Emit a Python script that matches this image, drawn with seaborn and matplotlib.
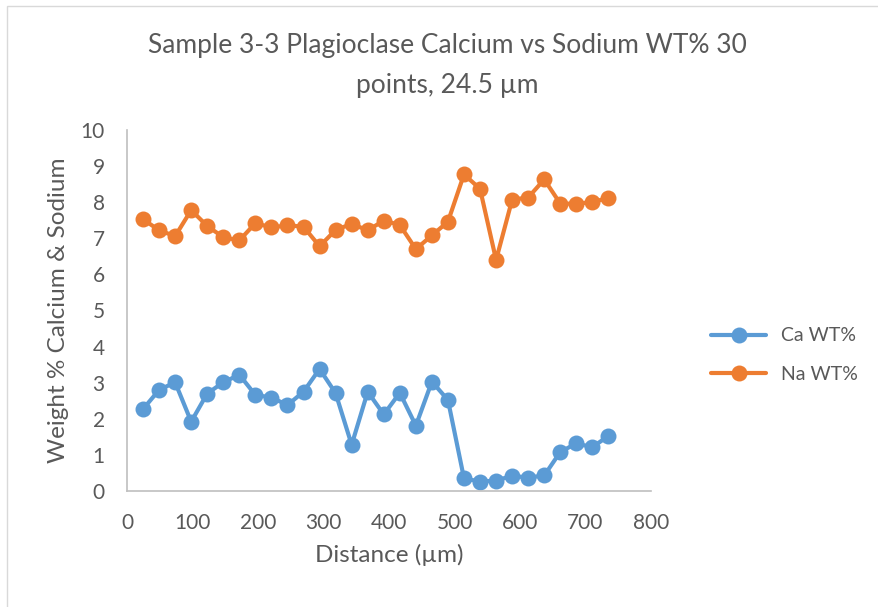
import numpy as np
import pandas as pd
import matplotlib.pyplot as plt
import seaborn as sns
from matplotlib.ticker import MultipleLocator
from matplotlib.patches import Rectangle

# Distance along traverse (um), 30 points at 24.5 um spacing
distance = [24.5, 49, 73.5, 98, 122.5, 147, 171.5, 196, 220.5, 245,
            269.5, 294, 318.5, 343, 367.5, 392, 416.5, 441, 465.5, 490,
            514.5, 539, 563.5, 588, 612.5, 637, 661.5, 686, 710.5, 735]
ca_wt = [2.27, 2.80, 3.01, 1.92, 2.70, 3.01, 3.22, 2.66, 2.59, 2.38,
         2.75, 3.38, 2.71, 1.28, 2.75, 2.12, 2.72, 1.81, 3.03, 2.52,
         0.35, 0.26, 0.29, 0.42, 0.37, 0.43, 1.08, 1.32, 1.21, 1.53]
na_wt = [7.53, 7.22, 7.06, 7.78, 7.34, 7.03, 6.94, 7.42, 7.30, 7.36,
         7.32, 6.78, 7.23, 7.40, 7.22, 7.49, 7.37, 6.70, 7.08, 7.46,
         8.77, 8.37, 6.40, 8.07, 8.13, 8.63, 7.96, 7.96, 8.00, 8.12]
series_names = ["Ca WT%", "Na WT%"]
colors = ["#5B9BD5", "#ED7D31"]

df = pd.DataFrame({"Distance": distance, "Ca WT%": ca_wt, "Na WT%": na_wt})
long = df.melt(id_vars="Distance", var_name="Series", value_name="WT")

sns.set_style("white")
plt.rcParams["font.family"] = ["Lato", "DejaVu Sans"]
text_col = "#595959"
axis_col = "#BFBFBF"

fig = plt.figure(figsize=(8.79, 6.07), dpi=100)
ax = fig.add_axes([127 / 879, 1 - 491 / 607, 524 / 879, 361 / 607])

sns.lineplot(data=long, x="Distance", y="WT", hue="Series", hue_order=series_names,
             palette=colors, marker="o", markersize=11.5, markeredgewidth=0,
             linewidth=3, ax=ax, legend=False)

ax.set_xlim(0, 800)
ax.set_ylim(0, 10)
ax.xaxis.set_major_locator(MultipleLocator(100))
ax.xaxis.set_minor_locator(MultipleLocator(20))
ax.yaxis.set_major_locator(MultipleLocator(1))
ax.yaxis.set_minor_locator(MultipleLocator(0.2))
ax.tick_params(which="both", direction="out", color=axis_col, width=1, length=4,
               labelcolor=text_col, labelsize=15)
ax.tick_params(axis="x", pad=12)
ax.tick_params(axis="y", pad=12)

for side in ["top", "right"]:
    ax.spines[side].set_visible(False)
for side in ["left", "bottom"]:
    ax.spines[side].set_color(axis_col)
    ax.spines[side].set_linewidth(1.2)

ax.set_xlabel("Distance (\u00b5m)", fontsize=17.5, color=text_col, labelpad=8)
ax.set_ylabel("Weight % Calcium & Sodium", fontsize=17.5, color=text_col, labelpad=8)

fig.text(447 / 879, 1 - 45 / 607, "Sample 3-3 Plagioclase Calcium vs Sodium WT% 30",
         ha="center", va="center", fontsize=19, color=text_col)
fig.text(447 / 879, 1 - 85 / 607, "points, 24.5 \u00b5m",
         ha="center", va="center", fontsize=19, color=text_col)

handles = [plt.Line2D([], [], color=c, marker="o", markersize=11.5, markeredgewidth=0,
                      linewidth=3) for c in colors]
fig.legend(handles, series_names, loc="center left",
           bbox_to_anchor=(694 / 879, 1 - 355 / 607), frameon=False,
           fontsize=14, labelcolor=text_col, handlelength=2.8, handletextpad=0.8,
           labelspacing=1.1)

fig.patches.append(Rectangle((7 / 879, -0.1), 1.2, 1.1 - 6 / 607, transform=fig.transFigure,
                             fill=False, edgecolor="#D9D9D9", linewidth=1))

fig.savefig("out.png", dpi=100)
